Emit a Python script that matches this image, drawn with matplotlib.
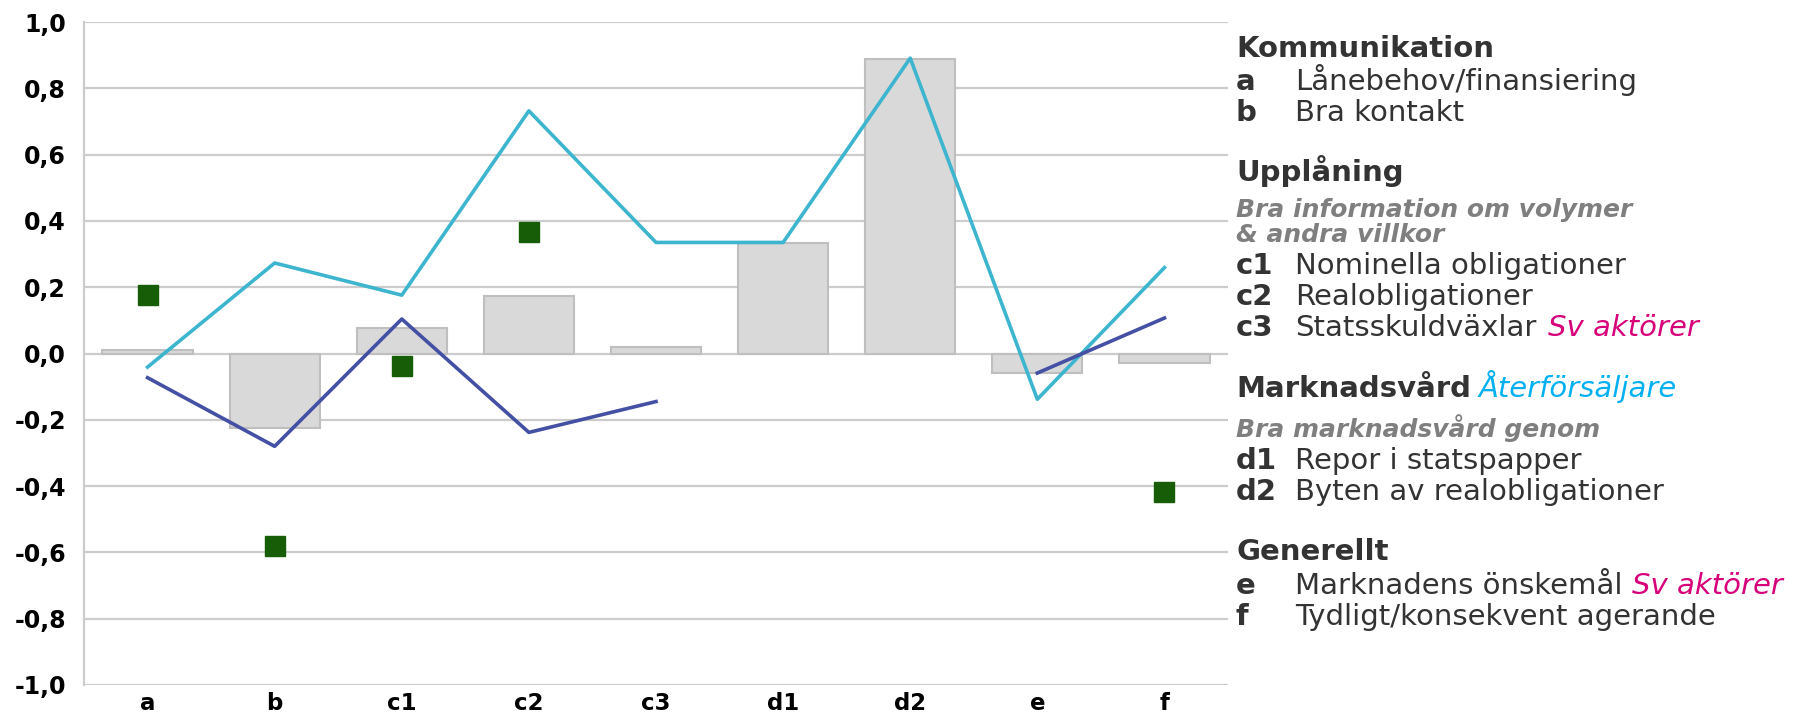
import numpy as np
import matplotlib
matplotlib.use("Agg")
import matplotlib.pyplot as plt

# data
categories = ["a", "b", "c1", "c2", "c3", "d1", "d2", "e", "f"]
bar_values = [0.01, -0.225, 0.076, 0.173, 0.02, 0.332, 0.888, -0.06, -0.028]
cyan_values = [-0.041, 0.273, 0.176, 0.732, 0.335, 0.335, 0.891, -0.138, 0.259]
blue_values = [-0.073, -0.28, 0.104, -0.238, -0.145, np.nan, np.nan, -0.059, 0.107]
green_values = [0.176, -0.58, -0.038, 0.366, np.nan, np.nan, np.nan, np.nan, -0.418]
ytick_values = [-1.0, -0.8, -0.6, -0.4, -0.2, 0.0, 0.2, 0.4, 0.6, 0.8, 1.0]

TXT = "#333333"
GREY_IT = "#7f7f7f"
MAGENTA = "#d6007a"
LIGHTBLUE = "#00b0f0"

W, H = 1795, 717
fig = plt.figure(figsize=(W / 100, H / 100), dpi=100)
ax = fig.add_axes([84 / W, 1 - 685 / H, (1228 - 84) / W, (685 - 22) / H])

x = np.arange(len(categories))
ax.bar(x, bar_values, width=0.71, color="#d9d9d9", edgecolor="#bfbfbf", linewidth=1.5, zorder=2)
ax.plot(x, cyan_values, color="#3db5cf", lw=2.6, zorder=3)
ax.plot(x, blue_values, color="#4450a4", lw=2.6, zorder=3)
ax.plot(x, green_values, ls="none", marker="s", ms=14, color="#175c06", zorder=4)

ax.set_xlim(-0.5, len(categories) - 0.5)
ax.set_ylim(-1.0, 1.0)
ax.set_yticks(ytick_values)
ax.set_yticklabels([f"{v:.1f}".replace(".", ",") for v in ytick_values],
                   fontsize=17, fontweight="bold")
ax.set_xticks(x)
ax.set_xticklabels(categories, fontsize=16.5, fontweight="bold")
ax.tick_params(axis="y", length=0, pad=13)
ax.tick_params(axis="x", length=0, pad=5)
ax.grid(axis="y", color="#cccccc", lw=1.6, zorder=0)
for s in ["top", "right", "bottom"]:
    ax.spines[s].set_visible(False)
ax.spines["left"].set_color("#cccccc")
ax.spines["left"].set_linewidth(1.6)

# right-hand text block
code_x = 1236 / W
desc_x = 1295 / W
FS = 21
FS_IT = 18


def fy(px):
    return 1 - px / H


def add(text, ypx, xpos=code_x, **kw):
    return fig.text(xpos, fy(ypx), text, va="baseline", ha="left", **kw)


def suffix(prev, text, color, gap=8):
    fig.canvas.draw()
    bb = prev.get_window_extent()
    fig.text((bb.x1 + gap) / W, prev.get_position()[1], text, va="baseline", ha="left",
             fontsize=FS, style="italic", color=color)


add("Kommunikation", 57, fontsize=FS, fontweight="bold", color=TXT)
add("a", 90, fontsize=FS, fontweight="bold", color=TXT)
add("Lånebehov/finansiering", 90, desc_x, fontsize=FS, color=TXT)
add("b", 121, fontsize=FS, fontweight="bold", color=TXT)
add("Bra kontakt", 121, desc_x, fontsize=FS, color=TXT)

add("Upplåning", 181, fontsize=FS, fontweight="bold", color=TXT)
add("Bra information om volymer", 217, fontsize=FS_IT, fontweight="bold", style="italic", color=GREY_IT)
add("& andra villkor", 242, fontsize=FS_IT, fontweight="bold", style="italic", color=GREY_IT)
add("c1", 274, fontsize=FS, fontweight="bold", color=TXT)
add("Nominella obligationer", 274, desc_x, fontsize=FS, color=TXT)
add("c2", 305, fontsize=FS, fontweight="bold", color=TXT)
add("Realobligationer", 305, desc_x, fontsize=FS, color=TXT)
add("c3", 336, fontsize=FS, fontweight="bold", color=TXT)
t = add("Statsskuldväxlar", 336, desc_x, fontsize=FS, color=TXT)
suffix(t, "Sv aktörer", MAGENTA, gap=12)

t = add("Marknadsvård", 397, fontsize=FS, fontweight="bold", color=TXT)
suffix(t, "Återförsäljare", LIGHTBLUE, gap=8)
add("Bra marknadsvård genom", 437, fontsize=FS_IT, fontweight="bold", style="italic", color=GREY_IT)
add("d1", 469, fontsize=FS, fontweight="bold", color=TXT)
add("Repor i statspapper", 469, desc_x, fontsize=FS, color=TXT)
add("d2", 500, fontsize=FS, fontweight="bold", color=TXT)
add("Byten av realobligationer", 500, desc_x, fontsize=FS, color=TXT)

add("Generellt", 560, fontsize=FS, fontweight="bold", color=TXT)
add("e", 594, fontsize=FS, fontweight="bold", color=TXT)
t = add("Marknadens önskemål", 594, desc_x, fontsize=FS, color=TXT)
suffix(t, "Sv aktörer", MAGENTA, gap=10)
add("f", 625, fontsize=FS, fontweight="bold", color=TXT)
add("Tydligt/konsekvent agerande", 625, desc_x, fontsize=FS, color=TXT)

fig.savefig("out.png", dpi=100)
